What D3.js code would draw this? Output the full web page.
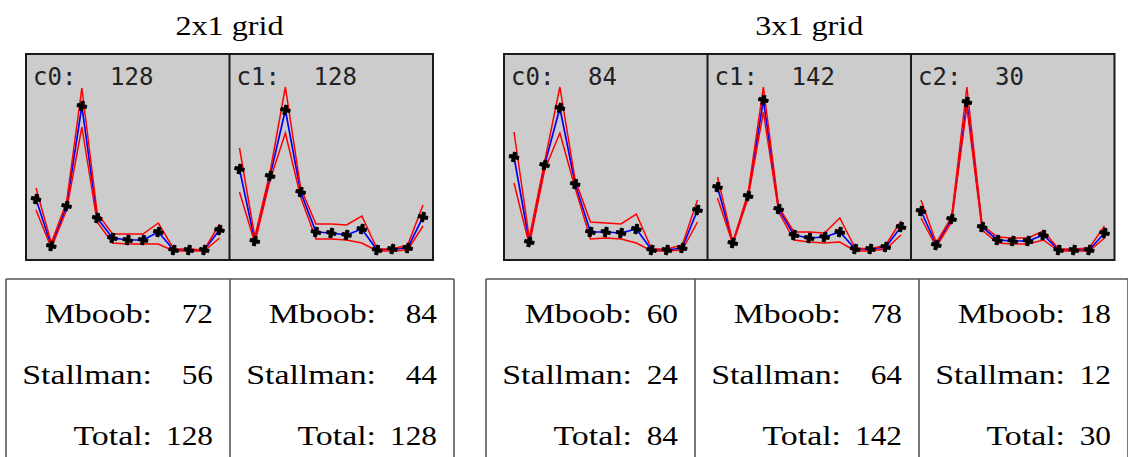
<!DOCTYPE html>
<html>
<head>
<meta charset="utf-8">
<script src="https://cdn.jsdelivr.net/npm/d3@7"></script>
<style>
  html, body { margin: 0; padding: 0; background: #fff; }
  svg { display: block; }
</style>
</head>
<body>
<svg id="chart" width="1128" height="457"></svg>
<script>
// ---- data ----------------------------------------------------------------
const gridTitles = ["2x1 grid", "3x1 grid"];
const cellNames = [["c0", "c1"], ["c0", "c1", "c2"]];
const mboobCounts = [[72, 84], [60, 78, 18]];
const stallmanCounts = [[56, 44], [24, 64, 12]];
const totalCounts = [[128, 128], [84, 142, 30]];
const rowLabels = ["Mboob:", "Stallman:", "Total:"];

// codebook profiles: 13 components per cell (mean, upper and lower band)
const mean2x1 = [
  [0.275, 0.04, 0.24, 0.74, 0.18, 0.08, 0.07, 0.07, 0.11, 0.02, 0.02, 0.02, 0.12],
  [0.425, 0.065, 0.39, 0.72, 0.31, 0.11, 0.105, 0.095, 0.125, 0.02, 0.025, 0.03, 0.185]
];
const upper2x1 = [
  [0.33, 0.055, 0.26, 0.83, 0.205, 0.10, 0.10, 0.10, 0.155, 0.025, 0.025, 0.02, 0.15],
  [0.53, 0.085, 0.41, 0.835, 0.33, 0.15, 0.15, 0.145, 0.19, 0.025, 0.025, 0.045, 0.245]
];
const lower2x1 = [
  [0.22, 0.03, 0.22, 0.635, 0.16, 0.055, 0.05, 0.05, 0.05, 0.015, 0.015, 0.015, 0.08],
  [0.31, 0.055, 0.37, 0.605, 0.285, 0.075, 0.075, 0.07, 0.055, 0.015, 0.015, 0.02, 0.14]
];
const mean3x1 = [
  [0.485, 0.06, 0.445, 0.73, 0.35, 0.11, 0.11, 0.105, 0.125, 0.02, 0.02, 0.03, 0.22],
  [0.335, 0.055, 0.29, 0.77, 0.225, 0.095, 0.08, 0.085, 0.11, 0.025, 0.025, 0.035, 0.135],
  [0.215, 0.045, 0.175, 0.76, 0.135, 0.07, 0.065, 0.065, 0.095, 0.02, 0.02, 0.02, 0.105]
];
const upper3x1 = [
  [0.61, 0.08, 0.46, 0.835, 0.37, 0.16, 0.155, 0.15, 0.2, 0.025, 0.025, 0.045, 0.27],
  [0.385, 0.06, 0.305, 0.835, 0.235, 0.11, 0.11, 0.105, 0.18, 0.03, 0.025, 0.045, 0.165],
  [0.27, 0.055, 0.185, 0.835, 0.145, 0.085, 0.08, 0.08, 0.115, 0.025, 0.025, 0.03, 0.14]
];
const lower3x1 = [
  [0.355, 0.045, 0.42, 0.605, 0.33, 0.075, 0.08, 0.075, 0.055, 0.015, 0.015, 0.02, 0.16],
  [0.28, 0.05, 0.28, 0.71, 0.21, 0.07, 0.06, 0.055, 0.06, 0.015, 0.015, 0.025, 0.095],
  [0.18, 0.035, 0.16, 0.735, 0.12, 0.055, 0.05, 0.05, 0.07, 0.015, 0.015, 0.015, 0.08]
];

const profiles = [
  { mean: mean2x1, upper: upper2x1, lower: lower2x1 },
  { mean: mean3x1, upper: upper3x1, lower: lower3x1 }
];

// ---- layout ----------------------------------------------------------------
const svg = d3.select("#chart");
const gridLeft = [26, 504];
const panelW = 203.5;
const boxTop = 54, boxBottom = 260;
const tableLeft = [6, 486];
const tableTop = 279;
const cellPad = 17, labelColW = 129, colGap = 16, digitW = 15;
const rowBaselines = [323, 384, 445];

const serif = "'Liberation Serif', 'Times New Roman', serif";
const mono = "'DejaVu Sans Mono', monospace";

function stretchedText(g, x, y, txt, anchor, size, sx) {
  g.append("text")
    .attr("transform", `translate(${x},${y}) scale(${sx},1)`)
    .attr("text-anchor", anchor)
    .attr("font-family", serif)
    .attr("font-size", size)
    .attr("fill", "#000")
    .text(txt);
}

gridTitles.forEach((title, gi) => {
  const n = cellNames[gi].length;
  const x0 = gridLeft[gi];
  const g = svg.append("g");

  // title
  stretchedText(g, x0 + n * panelW / 2, 35, title, "middle", 28, 1.15);

  // panels
  const y = d3.scaleLinear().domain([0, 1]).range([254, 54]);
  cellNames[gi].forEach((name, ci) => {
    const px = x0 + ci * panelW;
    const x = d3.scaleLinear().domain([0, 12]).range([px + 10, px + panelW - 10]);
    const pg = g.append("g");
    pg.append("rect")
      .attr("x", px).attr("y", boxTop)
      .attr("width", panelW).attr("height", boxBottom - boxTop)
      .attr("fill", "#cccccc");

    const line = d3.line().x((d, i) => x(i)).y(d => y(d));
    const prof = profiles[gi];
    pg.append("path").attr("d", line(prof.mean[ci]))
      .attr("fill", "none").attr("stroke", "#0000ff").attr("stroke-width", 1.7);
    [prof.upper[ci], prof.lower[ci]].forEach(band => {
      pg.append("path").attr("d", line(band))
        .attr("fill", "none").attr("stroke", "#ff0000").attr("stroke-width", 1.5);
    });
    pg.selectAll("path.pt")
      .data(prof.mean[ci])
      .join("path")
      .attr("class", "pt")
      .attr("d", d3.symbol(d3.symbolCross).size(50))
      .attr("transform", (d, i) => `translate(${x(i)},${y(d)}) rotate(12)`)
      .attr("fill", "#000")
      .attr("stroke", "#000")
      .attr("stroke-width", 0.9)
      .attr("stroke-linejoin", "round");

    pg.append("text")
      .attr("x", px + 7).attr("y", boxTop + 31)
      .attr("font-family", mono).attr("font-size", 24).attr("fill", "#222")
      .text(name + ":");
    pg.append("text")
      .attr("x", px + 84).attr("y", boxTop + 31)
      .attr("font-family", mono).attr("font-size", 24).attr("fill", "#222")
      .text(totalCounts[gi][ci]);
  });

  // panel borders
  g.append("rect")
    .attr("x", x0).attr("y", boxTop)
    .attr("width", n * panelW).attr("height", boxBottom - boxTop)
    .attr("fill", "none").attr("stroke", "#1a1a1a").attr("stroke-width", 2);
  for (let ci = 1; ci < n; ci++) {
    g.append("line")
      .attr("x1", x0 + ci * panelW).attr("x2", x0 + ci * panelW)
      .attr("y1", boxTop).attr("y2", boxBottom)
      .attr("stroke", "#1a1a1a").attr("stroke-width", 2);
  }

  // count table below the panels
  const tg = svg.append("g");
  let cx = tableLeft[gi];
  const cellEdges = [cx];
  cellNames[gi].forEach((name, ci) => {
    const rows = [mboobCounts[gi][ci], stallmanCounts[gi][ci], totalCounts[gi][ci]];
    const digits = d3.max(rows, v => String(v).length);
    const w = 2 * cellPad + labelColW + colGap + digits * digitW;
    rows.forEach((v, ri) => {
      stretchedText(tg, cx + cellPad + labelColW, rowBaselines[ri], rowLabels[ri], "end", 28, 1.21);
      stretchedText(tg, cx + w - cellPad, rowBaselines[ri], String(v), "end", 28, 1.12);
    });
    cx += w;
    cellEdges.push(cx);
  });
  tg.append("line")
    .attr("x1", cellEdges[0]).attr("x2", cellEdges[cellEdges.length - 1])
    .attr("y1", tableTop).attr("y2", tableTop)
    .attr("stroke", "#555").attr("stroke-width", 1.6);
  cellEdges.forEach(ex => {
    tg.append("line")
      .attr("x1", ex).attr("x2", ex)
      .attr("y1", tableTop).attr("y2", 470)
      .attr("stroke", "#555").attr("stroke-width", 1.6);
  });
});
</script>
</body>
</html>
